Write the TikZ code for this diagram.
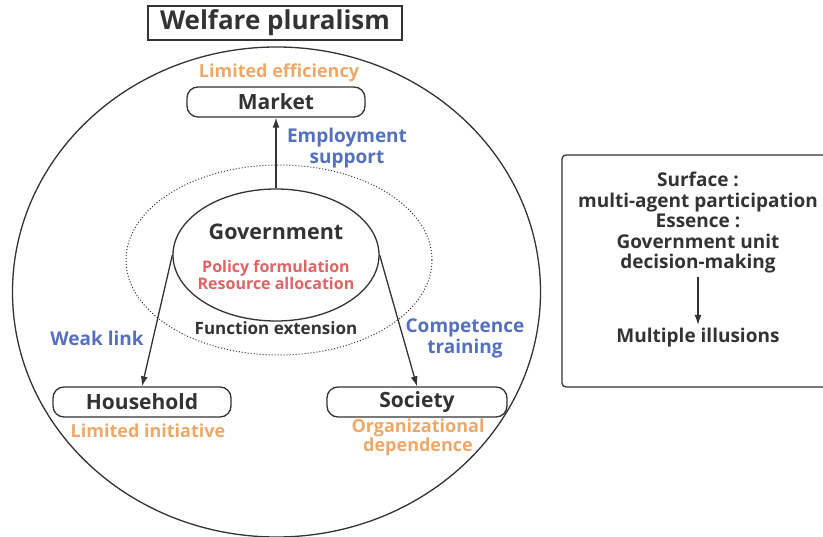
\documentclass[tikz,border=0pt]{standalone}
\usepackage{fontspec}
\setmainfont{Open Sans}
\usepackage{tikz}
\usetikzlibrary{arrows.meta}
\usetikzlibrary{positioning}
\usetikzlibrary{shapes.geometric}
\definecolor{mdark}{HTML}{333333}
\definecolor{morange}{HTML}{F0A868}
\definecolor{mblue}{HTML}{5470C0}
\definecolor{mred}{HTML}{E06464}

\begin{document}
\begin{tikzpicture}[x=1pt, y=-1pt,
    actor/.style={draw=mdark, line width=1.3pt, rounded corners=11pt, minimum width=178pt, minimum height=30pt, inner sep=0pt, text=mdark, font=\fontsize{21}{24}\selectfont\bfseries},
    note/.style={text=morange, align=center, font=\fontsize{18}{19}\selectfont\bfseries},
    link/.style={text=mblue, align=center, font=\fontsize{19}{21}\selectfont\bfseries},
    flow/.style={mdark, line width=1.3pt, -{Latex[length=10pt, width=7pt]}}]
    \useasboundingbox (0, 0) rectangle (823, 537);
    \clip (0, 0) rectangle (823, 537);

    % outer frame and the two rings
    \node (frame) [draw=mdark, line width=1.3pt, ellipse, minimum width=528pt, minimum height=490pt] at (276.5, 292) {};
    \node (ring) [draw=mdark, line width=1pt, dotted, ellipse, minimum width=306pt, minimum height=190pt] at (279, 260) {};
    \node (gov) [draw=mdark, line width=1.3pt, ellipse, minimum width=206pt, minimum height=132pt] at (276, 255) {};

    \node (title) [draw=mdark, line width=1.3pt, minimum width=254pt, minimum height=34pt, text=mdark, font=\fontsize{26}{28}\selectfont\bfseries] at (275, 23) {Welfare pluralism};

    \node (govname) [text=mdark, font=\fontsize{21.5}{24}\selectfont\bfseries] at (276, 232) {Government};
    \node (govtask) [text=mred, align=center, font=\fontsize{16}{17}\selectfont\bfseries] at (276, 275) {Policy formulation\\Resource allocation};
    \node (extend) [text=mdark, font=\fontsize{17}{19}\selectfont\bfseries] at (276, 328) {Function extension};

    \node (market) [actor] at (276, 102) {Market};
    \node (house) [actor] at (142, 402) {Household};
    \node (society) [actor, minimum width=180pt] at (417, 402) {Society};

    \node (marketnote) [note] at (279, 73) {Limited efficiency};
    \node (housenote) [note] at (148, 431) {Limited initiative};
    \node (societynote) [note] at (418, 437) {Organizational\\dependence};

    \draw [flow] (gov.north) -- (market.south);
    \draw [flow] (gov.west) -- (house.north);
    \draw [flow] (gov.east) -- (society.north);

    \node (employ) [link] at (347, 148) {Employment\\support};
    \node (weak) [link] at (97, 338) {Weak link};
    \node (skill) [link] at (465, 338) {Competence\\training};

    % right hand summary
    \draw [mdark, line width=1.3pt, rounded corners=4pt] (562, 155) rectangle (840, 387);
    \node (surface) [text=mdark, align=center, font=\fontsize{19}{20.5}\selectfont\bfseries] at (698, 223) {Surface :\\multi-agent participation\\Essence :\\Government unit\\decision-making};
    \node (illusion) [text=mdark, font=\fontsize{19}{21}\selectfont\bfseries] at (698, 338) {Multiple illusions};
    \draw [flow] (surface.south) -- (illusion.north);
  \end{tikzpicture}
\end{document}
